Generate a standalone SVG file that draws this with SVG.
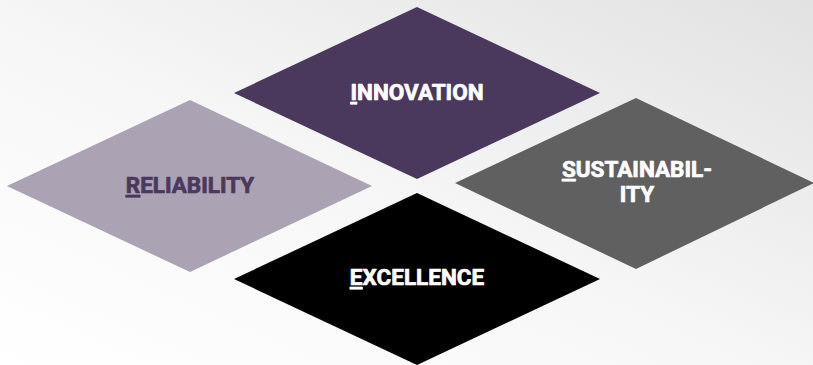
<svg xmlns="http://www.w3.org/2000/svg" width="813" height="365" viewBox="0 0 813 365">
<defs>
<linearGradient id="bg" x1="0" y1="1" x2="1" y2="0">
<stop offset="0" stop-color="#ffffff"/>
<stop offset="0.45" stop-color="#f7f7f7"/>
<stop offset="1" stop-color="#e2e2e2"/>
</linearGradient>
<style>
.lbl{font-family:Roboto,"Liberation Sans",sans-serif;font-weight:700;font-size:22.5px;text-anchor:middle;stroke-width:0.7px;stroke-linejoin:round}
.w{fill:#ffffff;stroke:#ffffff}
.p{fill:#4b385d;stroke:#4b385d}
.u{text-decoration:underline}
</style>
</defs>
<rect width="813" height="365" fill="url(#bg)"/>
<g id="innovation">
<polygon points="234,93 417,7 600,93 417,179" fill="#4b385d"/>
<text class="lbl w" x="417" y="100"><tspan class="u">I</tspan>NNOVATION</text>
</g>
<g id="reliability">
<polygon points="7,186 190,100 372,186 190,272" fill="#aba2b3"/>
<text class="lbl p" x="190" y="193"><tspan class="u">R</tspan>ELIABILITY</text>
</g>
<g id="sustainability">
<polygon points="455,183 636,98 814,183 636,269" fill="#606060"/>
<text class="lbl w" x="637" y="177"><tspan class="u">S</tspan>USTAINABIL-</text>
<text class="lbl w" x="637" y="202">ITY</text>
</g>
<g id="excellence">
<polygon points="234,279 417,193 600,279 417,365" fill="#000000"/>
<text class="lbl w" x="417" y="285"><tspan class="u">E</tspan>XCELLENCE</text>
</g>
<g id="connectors"/>
</svg>
